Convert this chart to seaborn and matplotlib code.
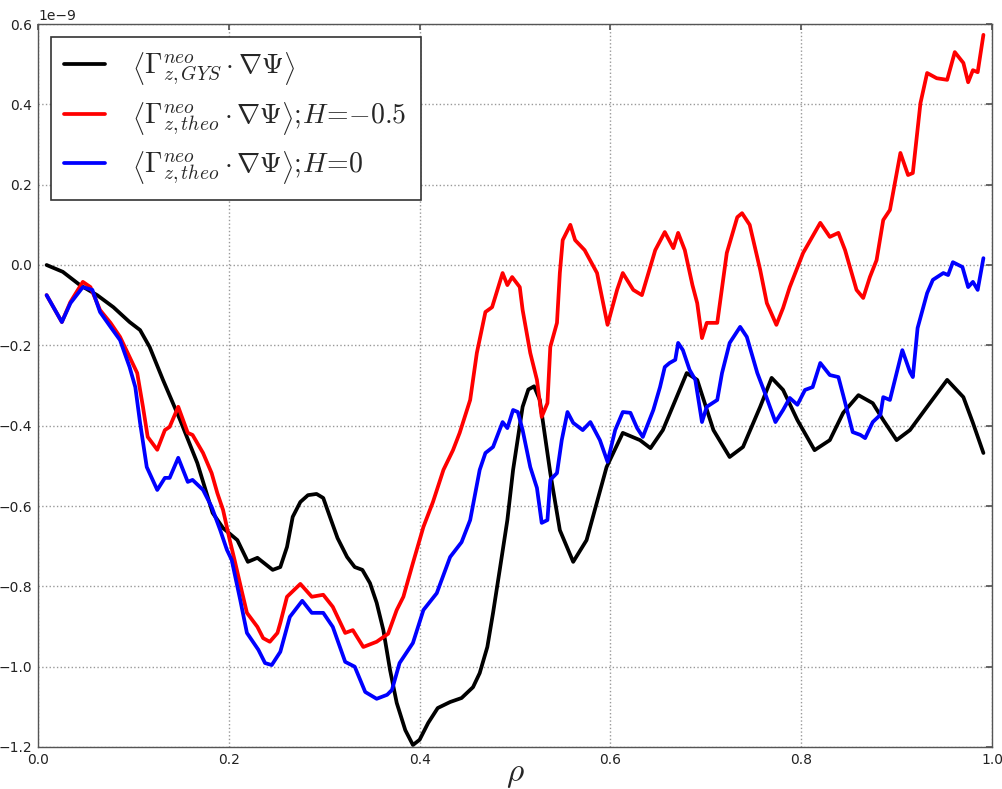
import numpy as np
import pandas as pd
import matplotlib
matplotlib.use("Agg")
import matplotlib.pyplot as plt
import seaborn as sns

# ---- data (rho, flux in units of 1e-9) ----
rho_gys = [0.009, 0.026, 0.044, 0.062, 0.079, 0.096, 0.107, 0.117, 0.131, 0.149, 0.167, 0.183, 0.194,
           0.209, 0.220, 0.230, 0.246, 0.254, 0.261, 0.267, 0.275, 0.283, 0.292, 0.299, 0.306, 0.314,
           0.324, 0.332, 0.340, 0.348, 0.355, 0.362, 0.369, 0.376, 0.385, 0.393, 0.400, 0.409, 0.419,
           0.432, 0.444, 0.456, 0.463, 0.471, 0.477, 0.484, 0.492, 0.498, 0.508, 0.514, 0.520, 0.526,
           0.537, 0.547, 0.561, 0.575, 0.596, 0.613, 0.631, 0.642, 0.655, 0.680, 0.691,
           0.708, 0.725, 0.739, 0.757, 0.769, 0.781, 0.796, 0.814, 0.830, 0.844, 0.860, 0.875, 0.886,
           0.900, 0.914, 0.932, 0.953, 0.970, 0.980, 0.991]
flux_gys = [0.0, -0.017, -0.050, -0.075, -0.105, -0.142, -0.162, -0.204, -0.286, -0.386, -0.493, -0.617, -0.655,
            -0.685, -0.739, -0.729, -0.759, -0.752, -0.702, -0.627, -0.590, -0.573, -0.570, -0.580, -0.627, -0.680,
            -0.727, -0.752, -0.759, -0.792, -0.841, -0.909, -1.008, -1.090, -1.158, -1.195, -1.182, -1.140, -1.103,
            -1.088, -1.078, -1.051, -1.016, -0.951, -0.866, -0.759, -0.635, -0.510, -0.353, -0.310, -0.302, -0.336,
            -0.518, -0.660, -0.739, -0.685, -0.503, -0.418, -0.436, -0.456, -0.411, -0.269, -0.286,
            -0.411, -0.478, -0.453, -0.353, -0.281, -0.311, -0.386, -0.461, -0.436, -0.368, -0.324, -0.344, -0.386,
            -0.436, -0.411, -0.353, -0.286, -0.329, -0.393, -0.468]

rho_h05 = [0.009, 0.025, 0.034, 0.047, 0.055, 0.065, 0.076, 0.086, 0.096, 0.104, 0.110, 0.115, 0.125, 0.133,
           0.138, 0.147, 0.157, 0.162, 0.173, 0.182, 0.188, 0.194, 0.201, 0.206, 0.214, 0.219, 0.230, 0.236,
           0.243, 0.251, 0.254, 0.261, 0.275, 0.287, 0.299, 0.309, 0.322, 0.330, 0.341, 0.355, 0.367, 0.376,
           0.383, 0.393, 0.404, 0.414, 0.425, 0.435, 0.442, 0.453, 0.460, 0.469, 0.476, 0.487, 0.492, 0.497, 0.505,
           0.508, 0.516, 0.523, 0.528, 0.534, 0.537, 0.544, 0.547, 0.550, 0.558, 0.563, 0.573, 0.586, 0.597,
           0.607, 0.613, 0.624, 0.633, 0.647, 0.657, 0.666, 0.671, 0.678, 0.686, 0.691, 0.696, 0.701, 0.712,
           0.722, 0.733, 0.738, 0.746, 0.757, 0.764, 0.774, 0.781, 0.788, 0.802, 0.820, 0.830, 0.839, 0.846,
           0.858, 0.865, 0.872, 0.879, 0.886, 0.893, 0.904, 0.912, 0.917, 0.925, 0.932, 0.942, 0.953, 0.961,
           0.970, 0.975, 0.980, 0.985, 0.991]
flux_h05 = [-0.075, -0.142, -0.092, -0.042, -0.055, -0.112, -0.144, -0.179, -0.229, -0.269, -0.353, -0.428, -0.460, -0.411,
            -0.403, -0.353, -0.418, -0.423, -0.468, -0.518, -0.568, -0.610, -0.685, -0.734, -0.816, -0.866, -0.901, -0.929,
            -0.938, -0.916, -0.891, -0.826, -0.794, -0.826, -0.821, -0.851, -0.916, -0.909, -0.951, -0.938, -0.918, -0.859,
            -0.826, -0.742, -0.652, -0.590, -0.510, -0.461, -0.418, -0.336, -0.219, -0.117, -0.105, -0.020, -0.050, -0.030, -0.055,
            -0.112, -0.219, -0.286, -0.378, -0.344, -0.204, -0.144, -0.020, 0.062, 0.100, 0.062, 0.037, -0.020, -0.149,
            -0.062, -0.020, -0.062, -0.075, 0.037, 0.082, 0.042, 0.080, 0.037, -0.050, -0.095, -0.182, -0.144, -0.144,
            0.030, 0.119, 0.129, 0.100, -0.012, -0.095, -0.149, -0.107, -0.055, 0.030, 0.105, 0.070, 0.080, 0.037,
            -0.062, -0.082, -0.030, 0.012, 0.112, 0.137, 0.279, 0.224, 0.229, 0.403, 0.478, 0.465, 0.461, 0.530,
            0.503, 0.455, 0.485, 0.480, 0.573]

rho_h0 = [0.009, 0.025, 0.034, 0.047, 0.057, 0.065, 0.076, 0.086, 0.096, 0.102, 0.107, 0.114, 0.125, 0.133,
          0.138, 0.147, 0.157, 0.162, 0.173, 0.182, 0.191, 0.198, 0.203, 0.212, 0.219, 0.231, 0.238, 0.245,
          0.254, 0.264, 0.277, 0.287, 0.299, 0.309, 0.322, 0.332, 0.343, 0.355, 0.366, 0.371, 0.379, 0.393,
          0.404, 0.418, 0.432, 0.444, 0.453, 0.463, 0.469, 0.477, 0.487, 0.492, 0.498, 0.503, 0.508, 0.516,
          0.523, 0.528, 0.534, 0.537, 0.544, 0.549, 0.555, 0.561, 0.571, 0.579, 0.589, 0.597, 0.605, 0.613,
          0.621, 0.628, 0.634, 0.645, 0.652, 0.657, 0.662, 0.668, 0.671, 0.676, 0.683, 0.689, 0.696, 0.701,
          0.712, 0.717, 0.725, 0.736, 0.743, 0.754, 0.762, 0.773, 0.781, 0.788, 0.796, 0.804, 0.812, 0.820,
          0.830, 0.839, 0.844, 0.854, 0.862, 0.867, 0.875, 0.883, 0.886, 0.893, 0.906, 0.914, 0.917, 0.922,
          0.932, 0.938, 0.949, 0.954, 0.959, 0.969, 0.975, 0.980, 0.985, 0.991]
flux_h0 = [-0.075, -0.142, -0.095, -0.055, -0.062, -0.117, -0.154, -0.187, -0.254, -0.304, -0.393, -0.503, -0.560, -0.530,
           -0.530, -0.480, -0.540, -0.535, -0.560, -0.602, -0.660, -0.709, -0.734, -0.834, -0.916, -0.958, -0.991, -0.996,
           -0.963, -0.876, -0.836, -0.866, -0.866, -0.901, -0.988, -1.000, -1.063, -1.080, -1.070, -1.058, -0.991, -0.941,
           -0.859, -0.817, -0.727, -0.690, -0.635, -0.510, -0.468, -0.453, -0.391, -0.406, -0.361, -0.366, -0.411, -0.503,
           -0.555, -0.642, -0.635, -0.535, -0.518, -0.436, -0.366, -0.393, -0.411, -0.391, -0.436, -0.490, -0.411, -0.366,
           -0.368, -0.406, -0.428, -0.361, -0.304, -0.254, -0.244, -0.236, -0.194, -0.212, -0.261, -0.286, -0.391, -0.353,
           -0.336, -0.269, -0.194, -0.154, -0.179, -0.269, -0.319, -0.391, -0.361, -0.331, -0.348, -0.311, -0.304, -0.244,
           -0.274, -0.279, -0.324, -0.416, -0.423, -0.431, -0.391, -0.373, -0.329, -0.336, -0.212, -0.266, -0.279, -0.157,
           -0.070, -0.037, -0.020, -0.025, 0.007, -0.005, -0.055, -0.042, -0.062, 0.017]

labels = [r'$\left\langle\Gamma^{neo}_{z,GYS}\cdot\nabla\Psi\right\rangle$',
          r'$\left\langle\Gamma^{neo}_{z,theo}\cdot\nabla\Psi\right\rangle;\!H\!=\!{-}0.5$',
          r'$\left\langle\Gamma^{neo}_{z,theo}\cdot\nabla\Psi\right\rangle;\!H\!=\!0$']
colors = ['black', 'red', 'blue']

# ---- style ----
sns.set_theme(style="white")
plt.rcParams.update({
    'font.family': ['DejaVu Sans'],
    'mathtext.fontset': 'cm',
    'axes.edgecolor': '#555555',
    'axes.linewidth': 1.0,
    'xtick.direction': 'in',
    'ytick.direction': 'in',
    'xtick.top': True,
    'ytick.right': True,
    'xtick.major.size': 4,
    'ytick.major.size': 4,
    'xtick.color': '#555555',
    'ytick.color': '#555555',
    'xtick.labelcolor': '#222222',
    'ytick.labelcolor': '#222222',
})

fig = plt.figure(figsize=(10.03, 7.89), dpi=100)
ax = fig.add_axes([38 / 1003, 1 - 747 / 789, (992 - 38) / 1003, (747 - 24) / 789])

series = [(rho_gys, flux_gys), (rho_h05, flux_h05), (rho_h0, flux_h0)]
for (r, f), lab, col in zip(series, labels, colors):
    df = pd.DataFrame({'rho': r, 'flux': np.array(f) * 1e-9})
    sns.lineplot(data=df, x='rho', y='flux', ax=ax, color=col, lw=2.7,
                 label=lab, sort=False, estimator=None)

ax.set_xlim(0, 1.0)
ax.set_ylim(-1.2e-9, 0.6e-9)
ax.set_xticks(np.arange(0, 1.01, 0.2))
ax.set_yticks(np.arange(-1.2e-9, 0.61e-9, 0.2e-9))
ax.grid(True, linestyle=':', color='#999999', linewidth=1.0)
ax.tick_params(labelsize=10, pad=4)
ax.set_xlabel(r'$\rho$', fontsize=24, labelpad=-7)
ax.set_ylabel('')
ax.yaxis.get_offset_text().set_fontsize(10)

leg = ax.legend(loc='upper left', fontsize=20, frameon=True, fancybox=False,
                framealpha=1.0, edgecolor='#333333', borderpad=0.5,
                handlelength=1.45, handletextpad=1.0, labelspacing=0.45,
                borderaxespad=0.45)
leg.get_frame().set_linewidth(1.2)

fig.savefig('out.png', dpi=100, facecolor='white')
